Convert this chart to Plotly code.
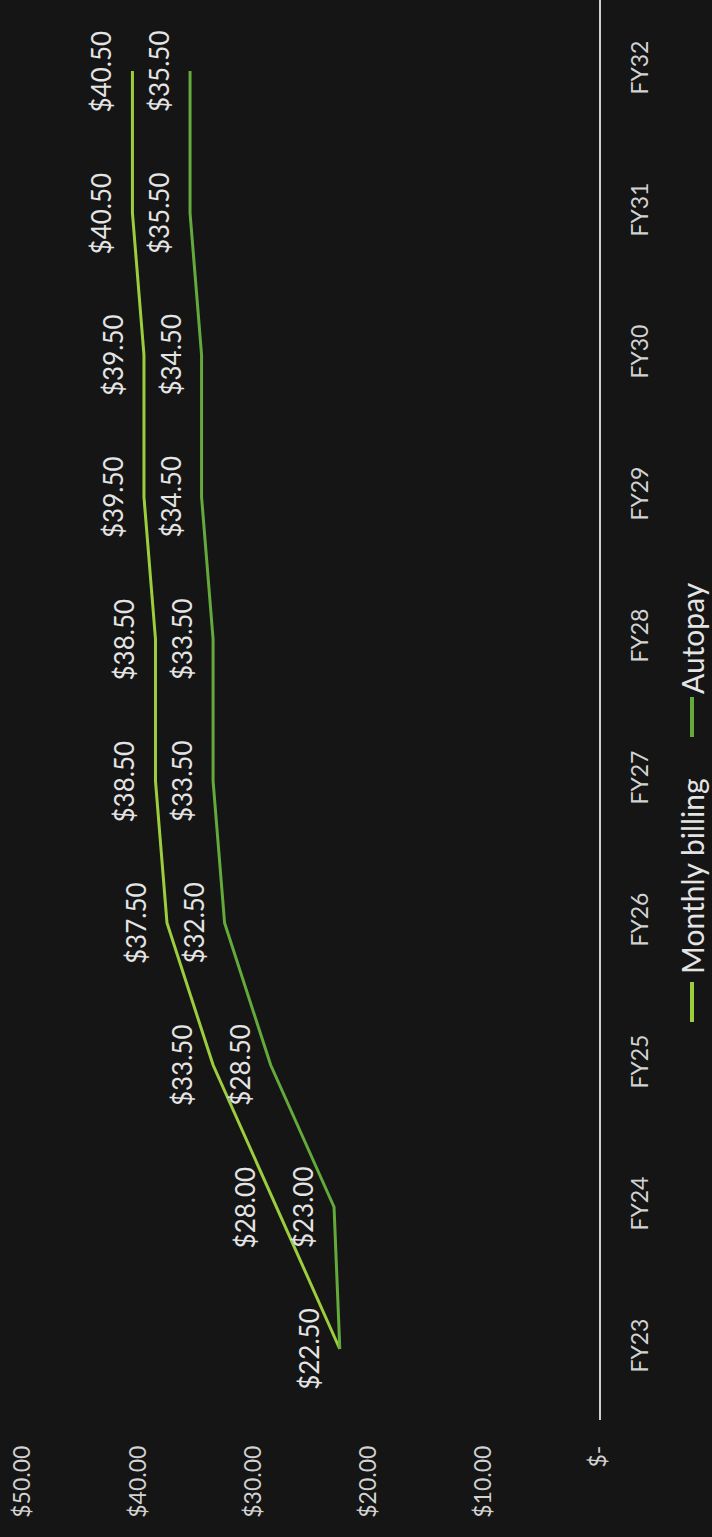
import plotly.graph_objects as go

# ---- data -------------------------------------------------------------
fiscal_years = ["FY23", "FY24", "FY25", "FY26", "FY27", "FY28", "FY29", "FY30", "FY31", "FY32"]
monthly_billing = [22.50, 28.00, 33.50, 37.50, 38.50, 38.50, 39.50, 39.50, 40.50, 40.50]
autopay = [22.50, 23.00, 28.50, 32.50, 33.50, 33.50, 34.50, 34.50, 35.50, 35.50]
value_ticks = [0, 10, 20, 30, 40, 50]
value_tick_labels = ["$-", "$10.00", "$20.00", "$30.00", "$40.00", "$50.00"]
series_names = ["Monthly billing", "Autopay"]

# ---- styling ----------------------------------------------------------
W, H = 712, 1537
M_L, M_R, M_T, M_B = 23, 113, 0, 117
BG = "#151515"
FONT = "Lato, 'Open Sans', sans-serif"
MONTHLY_COLOR = "#9ccd3d"
AUTOPAY_COLOR = "#64aa3b"
TEXT_COLOR = "#e4e4e4"
TICK_COLOR = "#d2d2d2"

plot_w = W - M_L - M_R
plot_h = H - M_T - M_B


def px_x(px):
    return (px - M_L) / plot_w


def px_y(py):
    return 1 - (py - M_T) / plot_h


fig = go.Figure()

colors = [MONTHLY_COLOR, AUTOPAY_COLOR]
all_series = [monthly_billing, autopay]

# lines run bottom-to-top along the category axis, values grow leftwards
for name, vals, color in zip(series_names, all_series, colors):
    fig.add_trace(go.Scatter(
        x=vals, y=fiscal_years, mode="lines", name=name,
        line=dict(color=color, width=3), showlegend=False,
        hoverinfo="x+y+name",
    ))

# rotated value labels beside each point (a shared value gets one label)
for s_idx, vals in enumerate(all_series):
    for i, v in enumerate(vals):
        if s_idx == 1 and monthly_billing[i] == v:
            continue
        fig.add_annotation(
            x=v, y=fiscal_years[i], xref="x", yref="y",
            text=f"${v:,.2f}", textangle=-90, showarrow=False,
            xanchor="center", yanchor="middle", xshift=-31,
            font=dict(family=FONT, size=26, color=TEXT_COLOR),
        )

# legend drawn as rotated text with short colour keys
legend_items = [
    (series_names[0], MONTHLY_COLOR, 1002, 876),
    (series_names[1], AUTOPAY_COLOR, 717, 638),
]
for label, color, key_y, text_y in legend_items:
    fig.add_shape(
        type="line", xref="paper", yref="paper",
        x0=px_x(692), x1=px_x(692), y0=px_y(key_y + 20), y1=px_y(key_y - 20),
        line=dict(color=color, width=4),
    )
    fig.add_annotation(
        x=px_x(692), y=px_y(text_y), xref="paper", yref="paper",
        text=label, textangle=-90, showarrow=False,
        xanchor="center", yanchor="middle",
        font=dict(family=FONT, size=30, color=TEXT_COLOR),
    )

fig.update_layout(
    width=W, height=H,
    margin=dict(l=M_L, r=M_R, t=M_T, b=M_B, pad=0),
    paper_bgcolor=BG, plot_bgcolor=BG,
    showlegend=False,
    font=dict(family=FONT, color=TICK_COLOR),
    xaxis=dict(
        range=[50, 0], tickmode="array", tickvals=value_ticks, ticktext=value_tick_labels,
        tickangle=-90, showgrid=False, zeroline=False, showline=False, ticks="",
        tickfont=dict(family=FONT, size=23, color=TICK_COLOR),
        ticklabelstandoff=20,
    ),
    yaxis=dict(
        type="category", categoryorder="array", categoryarray=fiscal_years,
        range=[-0.5, 9.5], side="right", showline=True, linecolor="#cfcfcf",
        linewidth=1.5, showgrid=False, zeroline=False, ticks="",
        tickangle=-90, tickfont=dict(family=FONT, size=23, color=TICK_COLOR),
        ticklabelstandoff=20,
    ),
)

fig.write_html("out.html")
